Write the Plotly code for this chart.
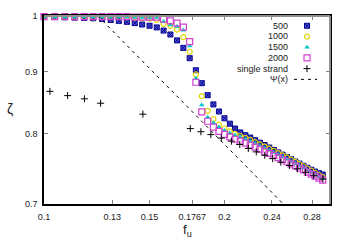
import plotly.graph_objects as go

# ---------------- data ----------------
f_u = [0.1, 0.1042, 0.1083, 0.1125, 0.1167, 0.1208, 0.125, 0.1292, 0.1333, 0.1375,
       0.1417, 0.1458, 0.15, 0.1542, 0.1583, 0.1625, 0.1667, 0.1708, 0.175, 0.1792,
       0.1833, 0.1875, 0.1917, 0.1958, 0.2, 0.2042, 0.2083, 0.2125, 0.2167, 0.2208,
       0.225, 0.2292, 0.2333, 0.2375, 0.2417, 0.2458, 0.25, 0.2542, 0.2583, 0.2625,
       0.2667, 0.2708, 0.275, 0.2792, 0.2833, 0.2875, 0.2917]

zeta_500 = [0.9982, 0.9982, 0.9976, 0.9969, 0.9963, 0.9958, 0.9945, 0.9926, 0.9908, 0.9890,
            0.9866, 0.9840, 0.9817, 0.9786, 0.9727, 0.9655, 0.9548, 0.9413, 0.9231, 0.9022,
            0.8803, 0.8605, 0.8456, 0.8343, 0.8236, 0.8152, 0.8078, 0.8018, 0.7976, 0.7941,
            0.7900, 0.7864, 0.7828, 0.7792, 0.7756, 0.7720, 0.7687, 0.7653, 0.7621, 0.7588,
            0.7558, 0.7527, 0.7498, 0.7470, 0.7444, 0.7421, 0.7403]

zeta_1000 = [0.998, 0.998, 0.998, 0.998, 0.998, 0.998, 0.998, 0.998, 0.998, 0.998,
             0.997, 0.996, 0.995, 0.9926, 0.9853, 0.9817, 0.9745, 0.9607, 0.9344, 0.8950,
             0.8589, 0.8354, 0.8225, 0.8138, 0.8078, 0.8033, 0.7995, 0.7966, 0.7937, 0.7907,
             0.7871, 0.7839, 0.7806, 0.7774, 0.7741, 0.7710, 0.7677, 0.7646, 0.7614, 0.7583,
             0.7550, 0.7520, 0.7488, 0.7458, 0.7426, 0.7396, 0.7365]

zeta_1500 = [0.998, 0.998, 0.998, 0.998, 0.998, 0.998, 0.998, 0.998, 0.998, 0.998,
             0.997, 0.997, 0.997, 0.997, 0.9895, 0.9830, 0.9804, 0.9732, 0.9448, 0.8884,
             0.8447, 0.8251, 0.8168, 0.8100, 0.8048, 0.8011, 0.7974, 0.7944, 0.7915, 0.7883,
             0.7850, 0.7818, 0.7784, 0.7753, 0.7720, 0.7689, 0.7656, 0.7625, 0.7593, 0.7562,
             0.7530, 0.7499, 0.7467, 0.7437, 0.7405, 0.7376, 0.7344]

zeta_2000 = [0.999, 0.999, 0.999, 0.999, 0.999, 0.999, 0.999, 0.999, 0.999, 0.999,
             0.998, 0.998, 0.998, 0.998, 0.9939, 0.9908, 0.9866, 0.9793, 0.9526, 0.8819,
             0.8338, 0.8190, 0.8100, 0.8033, 0.7988, 0.7952, 0.7915, 0.7886, 0.7857, 0.7828,
             0.7799, 0.7767, 0.7737, 0.7706, 0.7676, 0.7644, 0.7615, 0.7584, 0.7555, 0.7526,
             0.7495, 0.7467, 0.7437, 0.7408, 0.7380, 0.7351, 0.7324]

f_single = [0.1023, 0.1095, 0.1168, 0.1243, 0.1462, 0.1754, 0.1827, 0.1898, 0.1976, 0.2054,
            0.2121, 0.2192, 0.226, 0.2335, 0.2407, 0.2483, 0.2567, 0.2646, 0.273, 0.2817,
            0.2919]
zeta_single = [0.8668, 0.8598, 0.8546, 0.8475, 0.8301, 0.8077, 0.8029, 0.7985, 0.7932, 0.7886,
               0.7837, 0.7778, 0.7728, 0.7678, 0.7630, 0.7579, 0.7530, 0.7483, 0.7434, 0.7386,
               0.7340]

f_psi = [0.123, 0.15, 0.175, 0.2, 0.225, 0.25, 0.26]
psi = [1.0, 0.905, 0.838, 0.784, 0.739, 0.701, 0.688]

x_tickvals = [0.1, 0.13, 0.15, 0.1767, 0.2, 0.24, 0.28]
x_ticktext = ["0.1", "0.13", "0.15", "0.1767", "0.2", "0.24", "0.28"]
y_tickvals = [0.7, 0.8, 0.9, 1.0]
y_ticktext = ["0.7", "0.8", "0.9", "1"]

series_names = ["500", "1000", "1500", "2000", "single strand", "\u03a8(x)"]

# ---------------- styles ----------------
FONT = "Liberation Sans"
TXT = "#222222"
styles = [
    dict(symbol="square-x", size=5, color="#5a5ad8", lcolor="#000090", lw=1.0),
    dict(symbol="circle-open", size=5, color="#e0d400", lcolor="#e0d400", lw=1.2),
    dict(symbol="triangle-up", size=5, color="#00c8c8", lcolor="#00c8c8", lw=0),
    dict(symbol="square-open", size=6, color="#d040d0", lcolor="#d040d0", lw=1.2),
    dict(symbol="cross-thin-open", size=5, color="#000000", lcolor="#000000", lw=1.0),
]

fig = go.Figure()
data_sets = [(f_u, zeta_500), (f_u, zeta_1000), (f_u, zeta_1500), (f_u, zeta_2000),
             (f_single, zeta_single)]
for (xs, ys), st, nm in zip(data_sets, styles, series_names):
    fig.add_trace(go.Scatter(
        x=xs, y=ys, mode="markers", name=nm, showlegend=False, cliponaxis=False,
        marker=dict(symbol=st["symbol"], size=st["size"], color=st["color"],
                    line=dict(color=st["lcolor"], width=st["lw"]))))

fig.add_trace(go.Scatter(x=f_psi, y=psi, mode="lines", name=series_names[5], showlegend=False,
                         line=dict(color="black", width=1, dash="3px,4px")))

# ---------------- manual legend (symbol right of right-aligned text) ----------------
leg_rows = [0.948, 0.891, 0.834, 0.777, 0.720, 0.663]
leg_text_x = 0.86
leg_sym_x = 0.9196
for i, st in enumerate(styles):
    fig.add_trace(go.Scatter(
        x=[leg_sym_x], y=[leg_rows[i]], xaxis="x2", yaxis="y2", mode="markers",
        showlegend=False, hoverinfo="skip", cliponaxis=False,
        marker=dict(symbol=st["symbol"], size=st["size"], color=st["color"],
                    line=dict(color=st["lcolor"], width=st["lw"]))))
fig.add_trace(go.Scatter(
    x=[0.874, 0.955], y=[leg_rows[5], leg_rows[5]], xaxis="x2", yaxis="y2", mode="lines",
    showlegend=False, hoverinfo="skip", line=dict(color="black", width=1, dash="3px,4px")))

annotations = []
for i, nm in enumerate(series_names):
    annotations.append(dict(x=leg_text_x, y=leg_rows[i], xref="paper", yref="paper",
                            text=nm, showarrow=False, xanchor="right", yanchor="middle",
                            font=dict(family=FONT, size=9, color=TXT)))
annotations.append(dict(x=0.5, y=-0.14, xref="paper", yref="paper", text="f<sub>u</sub>",
                        showarrow=False, xanchor="center", yanchor="middle",
                        font=dict(family=FONT, size=13, color=TXT)))
annotations.append(dict(x=-0.119, y=0.503, xref="paper", yref="paper", text="\u03b6",
                        showarrow=False, xanchor="center", yanchor="middle",
                        font=dict(family=FONT, size=14, color=TXT)))

axis_common = dict(showgrid=False, zeroline=False, ticks="inside", ticklen=4,
                   tickcolor="#808080", tickwidth=1, showline=True, linecolor="black",
                   linewidth=1.5, mirror="ticks",
                   tickfont=dict(family=FONT, size=9, color=TXT))

fig.update_layout(
    width=350, height=250,
    margin=dict(l=44, r=20, t=11, b=46),
    paper_bgcolor="white", plot_bgcolor="white",
    xaxis=dict(type="log", range=[-1, -0.5229], tickvals=x_tickvals, ticktext=x_ticktext,
               ticklabelstandoff=3, **axis_common),
    yaxis=dict(type="log", range=[-0.1549, 0], tickvals=y_tickvals, ticktext=y_ticktext,
               ticklabelstandoff=3, **axis_common),
    xaxis2=dict(overlaying="x", range=[0, 1], visible=False, fixedrange=True),
    yaxis2=dict(overlaying="y", range=[0, 1], visible=False, fixedrange=True),
    annotations=annotations,
    shapes=[
        dict(type="line", xref="paper", yref="paper", x0=0, x1=1, y0=1, y1=1,
             line=dict(color="#909090", width=2), layer="above"),
        dict(type="line", xref="paper", yref="paper", x0=1, x1=1, y0=0, y1=1,
             line=dict(color="#909090", width=2), layer="above"),
    ],
    showlegend=False,
)

fig.write_html("out.html", config={"displayModeBar": False},
               post_script="document.body.style.margin='0';")
